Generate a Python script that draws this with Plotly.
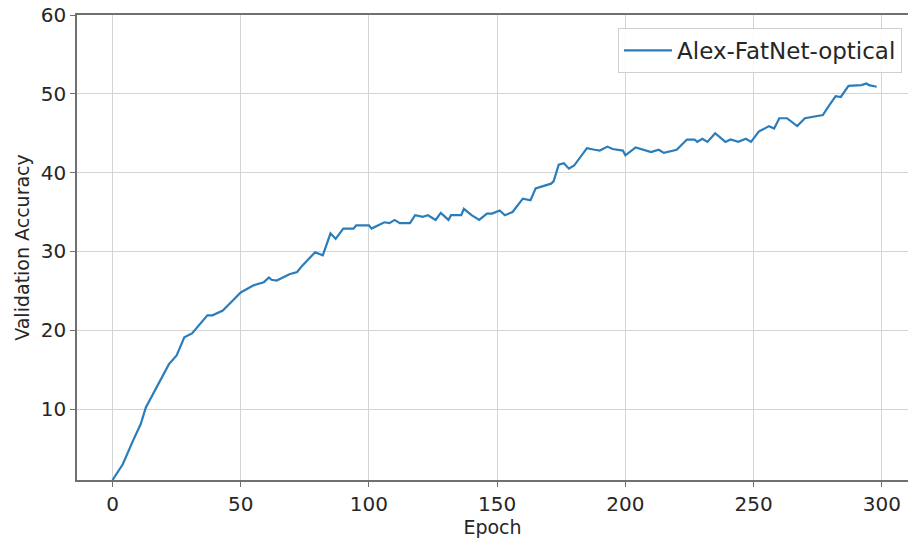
import plotly.graph_objects as go

# Validation accuracy per training epoch
epochs = [0, 4, 8, 11, 13, 17, 19, 22, 25, 28, 31, 33, 37, 39, 43, 47, 50, 55, 59, 61,
          62, 64, 66, 69, 72, 74, 79, 82, 85, 87, 90, 94, 95, 100, 101, 106, 108, 110,
          112, 116, 118, 121, 123, 126, 128, 131, 132, 136, 137, 140, 143, 146, 148,
          151, 153, 156, 160, 163, 165, 169, 171, 172, 174, 176, 178, 180, 185, 188,
          190, 193, 195, 199, 200, 204, 208, 210, 213, 215, 220, 224, 227, 228, 230,
          232, 235, 239, 241, 244, 247, 249, 252, 256, 258, 260, 263, 267, 270, 273,
          277, 279, 282, 284, 287, 292, 294, 295, 298]
accuracy = [1.0, 3.0, 6.0, 8.1, 10.2, 12.6, 13.8, 15.7, 16.8, 19.1, 19.6, 20.4, 21.9,
            21.9, 22.5, 23.8, 24.8, 25.7, 26.1, 26.7, 26.4, 26.3, 26.6, 27.1, 27.4,
            28.2, 29.9, 29.5, 32.3, 31.6, 32.9, 32.9, 33.3, 33.3, 32.9, 33.7, 33.6,
            34.0, 33.6, 33.6, 34.6, 34.4, 34.6, 34.0, 34.9, 34.0, 34.6, 34.6, 35.4,
            34.6, 34.0, 34.8, 34.8, 35.2, 34.6, 35.0, 36.7, 36.5, 38.0, 38.4, 38.6,
            38.9, 41.0, 41.2, 40.5, 40.9, 43.1, 42.9, 42.8, 43.3, 43.0, 42.8, 42.2,
            43.2, 42.8, 42.6, 42.9, 42.5, 42.9, 44.2, 44.2, 43.9, 44.3, 43.9, 45.0,
            43.9, 44.2, 43.9, 44.3, 43.9, 45.2, 45.9, 45.6, 46.9, 46.9, 45.9, 46.9,
            47.1, 47.3, 48.3, 49.7, 49.6, 51.0, 51.1, 51.3, 51.1, 50.9]

x_ticks = [0, 50, 100, 150, 200, 250, 300]
y_ticks = [10, 20, 30, 40, 50, 60]

FONT = "DejaVu Sans"
TEXT = "#262626"
SPINE = "#707070"
GRID = "#d4d4d4"

fig = go.Figure()
fig.add_trace(go.Scatter(
    x=epochs, y=accuracy, mode="lines", name="Alex-FatNet-optical",
    line=dict(color="#2a7dba", width=2.2),
))

fig.update_layout(
    width=908, height=543,
    margin=dict(l=77, r=0, t=15, b=63),
    paper_bgcolor="white", plot_bgcolor="white",
    font=dict(family=FONT, size=20, color=TEXT),
    showlegend=True,
    legend=dict(
        x=0.9928, y=0.972, xanchor="right", yanchor="top",
        bgcolor="rgba(255,255,255,0.85)", bordercolor="#d0d0d0", borderwidth=1,
        font=dict(family=FONT, size=23, color=TEXT),
        itemwidth=48,
    ),
)

fig.update_xaxes(
    range=[-13.85, 310.2], tickvals=x_ticks,
    showgrid=True, gridcolor=GRID, gridwidth=1,
    showline=True, linecolor=SPINE, linewidth=1.6, mirror=True,
    ticks="outside", ticklen=5, tickcolor=SPINE,
    zeroline=False,
    title=dict(text="Epoch", font=dict(size=19), standoff=6),
)
fig.update_yaxes(
    range=[1, 60], tickvals=y_ticks,
    showgrid=True, gridcolor=GRID, gridwidth=1,
    showline=True, linecolor=SPINE, linewidth=1.6,
    ticks="outside", ticklen=5, tickcolor=SPINE,
    zeroline=False,
    title=dict(text="Validation Accuracy", font=dict(size=19), standoff=6),
)

fig.write_html("out.html")
